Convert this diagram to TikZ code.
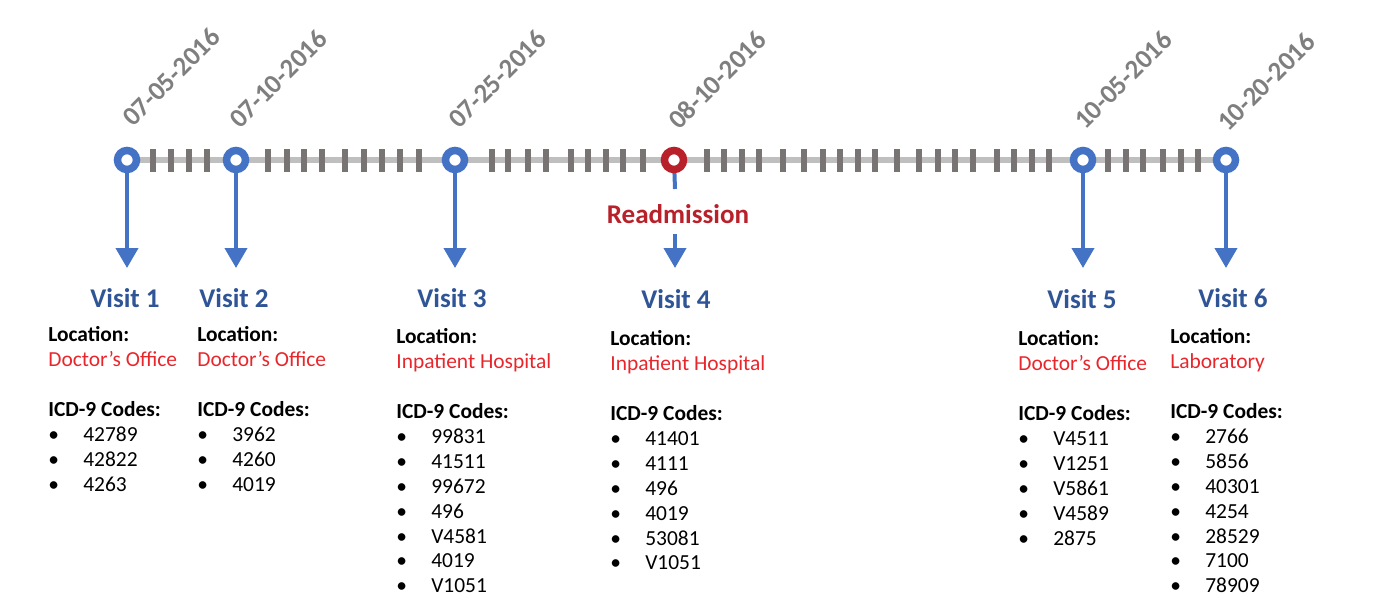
\documentclass[tikz,border=0pt]{standalone}
\usepackage{fontspec}
\setmainfont{Carlito}
\usepackage{tikz}
\usetikzlibrary{positioning,arrows.meta,backgrounds}
\usepackage{xcolor}
\definecolor{visblue}{HTML}{4472C4}
\definecolor{visdark}{HTML}{2F5597}
\definecolor{locred}{HTML}{E8262B}
\definecolor{readred}{HTML}{B8202A}
\definecolor{dategray}{HTML}{7F7F7F}
\definecolor{linegray}{HTML}{BFBFBF}
\definecolor{tickgray}{HTML}{787474}
\newcommand{\locname}[1]{\textcolor{locred}{#1}}
\newcommand{\icdcode}[1]{\makebox[0.7cm][l]{\textbullet}#1}

\begin{document}
\begin{tikzpicture}[x=0.02cm, y=-0.02cm,
    ring/.style={circle, draw=visblue, line width=0.15cm, fill=white, minimum size=0.38cm, inner sep=0pt},
    visarrow/.style={visblue, line width=0.08cm, -{Triangle[width=0.44cm, length=0.4cm]}},
    date/.style={rotate=45, anchor=base west, inner sep=0pt, text=dategray, font=\fontsize{15.3}{18}\selectfont\bfseries},
    visit/.style={text=visdark, inner sep=0pt, font=\fontsize{15.4}{18}\selectfont\bfseries},
    info/.style={anchor=north west, align=left, inner sep=0pt, font=\fontsize{12.2}{14.2}\selectfont}]
    \useasboundingbox (0,0) rectangle (1384,612);

    % visit markers on the timeline
    \node[ring] (c1) at (127,160) {};
    \node[ring] (c2) at (236,160) {};
    \node[ring] (c3) at (455,160) {};
    \node[ring, draw=readred] (c4) at (674,160) {};
    \node[ring] (c5) at (1083,160) {};
    \node[ring] (c6) at (1226,160) {};

    \begin{pgfonlayer}{background}
    % timeline and day ticks
    \draw[linegray, line width=0.12cm] (c1.center) -- (c6.center);
    \foreach \x in {153,171,189,207, 268,287,304,322,345,364,382,400,419,
                    492,508,528,546,571,588,606,623,643,
                    707,724,742,759,783,804,823,840,858,875,897,919,938,955,973,997,1014,1032,1049,
                    1108,1126,1143,1163,1181,1198}
        \draw[tickgray, line width=0.12cm] (\x,149) -- (\x,172);
    \end{pgfonlayer}

    % arrows down to the visits
    \coordinate (t1) at (127,268);
    \coordinate (t2) at (236,268);
    \coordinate (t3) at (455,268);
    \coordinate (t4) at (675,268);
    \coordinate (t5) at (1083,268);
    \coordinate (t6) at (1226,268);
    \coordinate (s4) at (675,189);
    \coordinate (r4) at (675,234);
    \node[text=readred, inner sep=0pt, font=\fontsize{15.4}{18}\selectfont\bfseries] (rd) at (678,214) {Readmission};
    \begin{pgfonlayer}{background}
    \draw[visarrow] (c1.center) -- (t1);
    \draw[visarrow] (c2.center) -- (t2);
    \draw[visarrow] (c3.center) -- (t3);
    \draw[visblue, line width=0.08cm] (c4.center) -- (s4);
    \draw[visarrow] (r4) -- (t4);
    \draw[visarrow] (c5.center) -- (t5);
    \draw[visarrow] (c6.center) -- (t6);
    \end{pgfonlayer}

    % dates
    \node[date] (d1) at (133,128) {07-05-2016};
    \node[date] (d2) at (240,130) {07-10-2016};
    \node[date] (d3) at (459,130) {07-25-2016};
    \node[date] (d4) at (679,131) {08-10-2016};
    \node[date] (d5) at (1085,131) {10-05-2016};
    \node[date] (d6) at (1228,133) {10-20-2016};

    % visit titles
    \node[visit] (v1) at (125,298) {Visit 1};
    \node[visit] (v2) at (234,298) {Visit 2};
    \node[visit] (v3) at (452,298) {Visit 3};
    \node[visit] (v4) at (676,299) {Visit 4};
    \node[visit] (v5) at (1082,299) {Visit 5};
    \node[visit] (v6) at (1233,298) {Visit 6};

    % visit details
    \node[info] (i1) at (48,326) {\textbf{Location:}\\ \locname{Doctor’s Office}\\[14.2pt]
        \textbf{ICD-9 Codes:}\\ \icdcode{42789}\\ \icdcode{42822}\\ \icdcode{4263}};
    \node[info] (i2) at (197,326) {\textbf{Location:}\\ \locname{Doctor’s Office}\\[14.2pt]
        \textbf{ICD-9 Codes:}\\ \icdcode{3962}\\ \icdcode{4260}\\ \icdcode{4019}};
    \node[info] (i3) at (396,328) {\textbf{Location:}\\ \locname{Inpatient Hospital}\\[14.2pt]
        \textbf{ICD-9 Codes:}\\ \icdcode{99831}\\ \icdcode{41511}\\ \icdcode{99672}\\ \icdcode{496}\\
        \icdcode{V4581}\\ \icdcode{4019}\\ \icdcode{V1051}};
    \node[info] (i4) at (610,330) {\textbf{Location:}\\ \locname{Inpatient Hospital}\\[14.2pt]
        \textbf{ICD-9 Codes:}\\ \icdcode{41401}\\ \icdcode{4111}\\ \icdcode{496}\\ \icdcode{4019}\\
        \icdcode{53081}\\ \icdcode{V1051}};
    \node[info] (i5) at (1018,330) {\textbf{Location:}\\ \locname{Doctor’s Office}\\[14.2pt]
        \textbf{ICD-9 Codes:}\\ \icdcode{V4511}\\ \icdcode{V1251}\\ \icdcode{V5861}\\ \icdcode{V4589}\\
        \icdcode{2875}};
    \node[info] (i6) at (1170,328) {\textbf{Location:}\\ \locname{Laboratory}\\[14.2pt]
        \textbf{ICD-9 Codes:}\\ \icdcode{2766}\\ \icdcode{5856}\\ \icdcode{40301}\\ \icdcode{4254}\\
        \icdcode{28529}\\ \icdcode{7100}\\ \icdcode{78909}};
\end{tikzpicture}
\end{document}
